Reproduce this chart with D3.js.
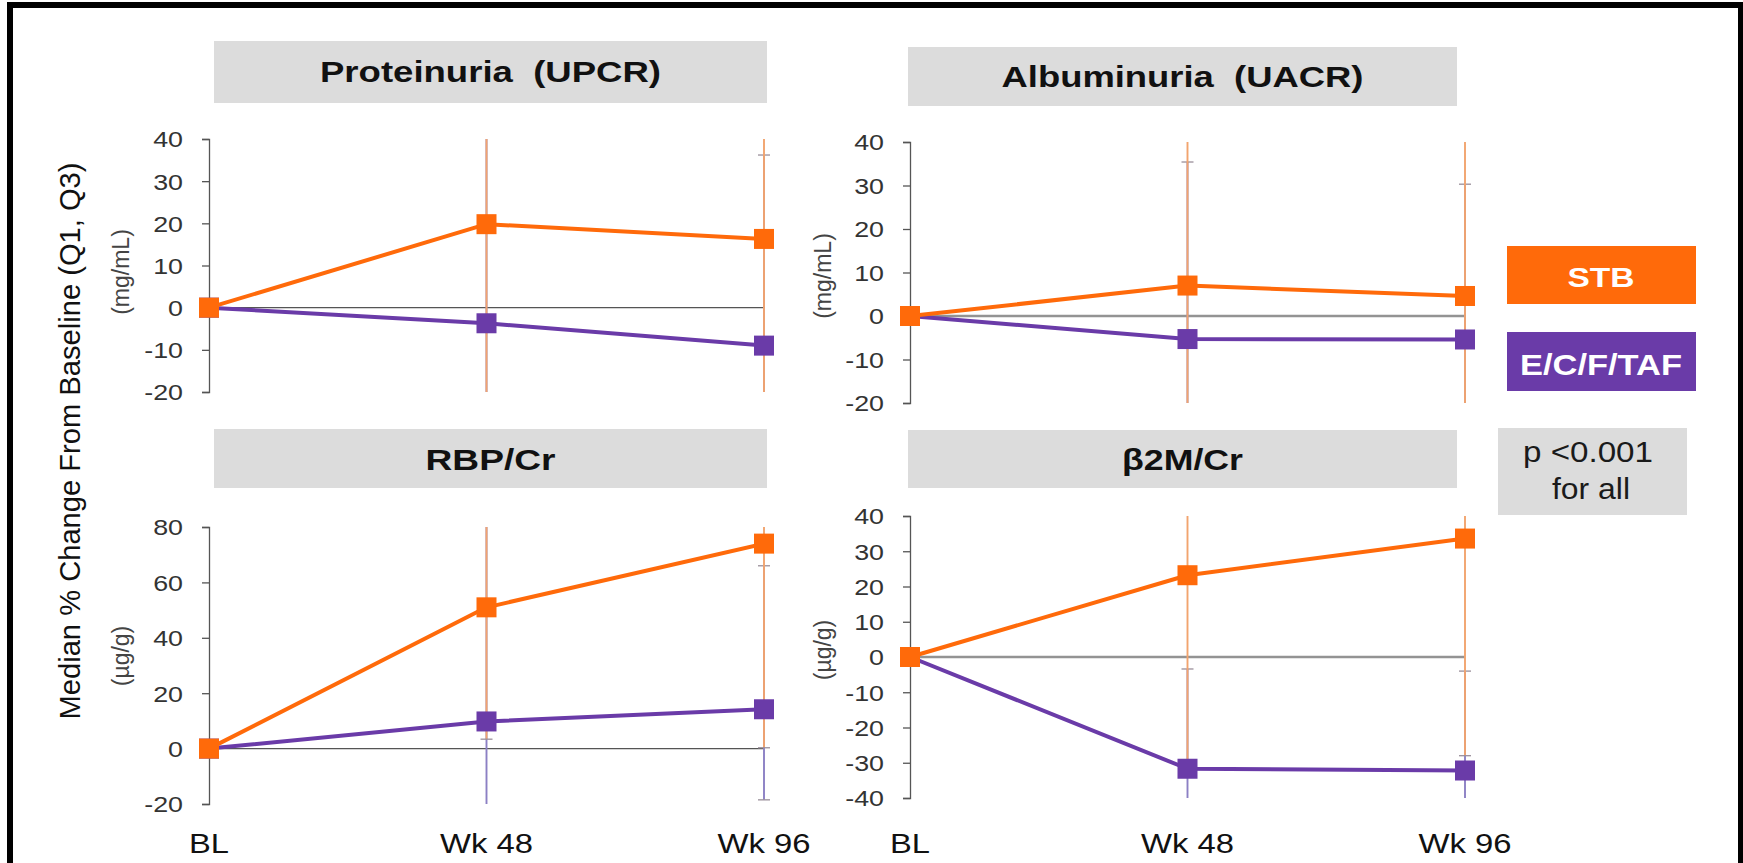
<!DOCTYPE html>
<html><head><meta charset="utf-8">
<script src="https://cdn.jsdelivr.net/npm/d3@7"></script>
<style>
body{margin:0;background:#fff}
svg{display:block}
text{font-family:"Liberation Sans",Arial,Helvetica,sans-serif}
</style>
</head><body>
<svg id="c" width="1743" height="863"></svg>
<script>
// ---------------- data ----------------
const timepoints = ["BL", "Wk 48", "Wk 96"];
const panelTitles = ["Proteinuria  (UPCR)", "Albuminuria  (UACR)", "RBP/Cr", "\u03b22M/Cr"];
const unitLabels = ["(mg/mL)", "(mg/mL)", "(\u00b5g/g)", "(\u00b5g/g)"];
const yDomains = [[-20, 40], [-20, 40], [-20, 80], [-40, 40]];
const yTickSteps = [10, 10, 20, 10];
const seriesNames = ["STB", "E/C/F/TAF"];

// medians (% change)
const stbMedian = [[0, 19.8, 16.3], [0, 7.0, 4.6], [0, 51, 74], [0, 23.2, 33.6]];
const ecfMedian = [[0, -3.7, -9.0], [0, -5.3, -5.4], [0, 9.8, 14.2], [0, -31.7, -32.2]];
// interquartile bounds
const stbQ1 = [[0, -25, -25], [0, -25, -25], [0, 3.4, 0.3], [0, -31, -28]];
const stbQ3 = [[0, 45, 45], [0, 45, 45], [0, 90, 90], [0, 50, 50]];
const ecfQ1 = [[0, -25, -25], [0, -25, -25], [0, -25, -18.5], [0, -45, -45]];
const ecfQ3 = [[0, 45, 36.2], [0, 35.4, 30.3], [0, 85, 66], [0, -3.4, -4.0]];

const yAxisTitle = "Median % Change From Baseline (Q1, Q3)";
const pValueLines = ["p <0.001", "for all"];

// ---------------- style / layout ----------------
const ORANGE = "#FF6A0A", PURPLE = "#6A3BA8";
const ORANGE_ERR = "#F2A46E", PURPLE_ERR = "#8C80C4";
const BOX_GRAY = "#DCDCDC";

const layout = [
  {x0: 209, x1: 764, yTop: 139, yBot: 392, box: [214, 41, 767, 103], titleY: 82, titleW: 341, unitX: 129, unitY: 272, zero: "thin"},
  {x0: 910, x1: 1465, yTop: 142, yBot: 403, box: [908, 47, 1457, 106], titleY: 87, titleW: 362, unitX: 831, unitY: 276, zero: "thick"},
  {x0: 209, x1: 764, yTop: 527, yBot: 804, box: [214, 429, 767, 488], titleY: 470, titleW: 130, unitX: 129, unitY: 656, zero: "thin"},
  {x0: 910, x1: 1465, yTop: 516, yBot: 798, box: [908, 430, 1457, 488], titleY: 470, titleW: 121, unitX: 831, unitY: 650, zero: "thick"}
];

const svg = d3.select("#c");

function fitW(sel, w) { sel.attr("textLength", w).attr("lengthAdjust", "spacingAndGlyphs"); }
function stretch(sel, k) {
  sel.each(function () {
    const w = this.getComputedTextLength();
    d3.select(this).attr("textLength", w * k).attr("lengthAdjust", "spacingAndGlyphs");
  });
}

// outer frame
svg.append("rect").attr("x", 10).attr("y", 5).attr("width", 1731).attr("height", 920)
  .attr("fill", "none").attr("stroke", "#000").attr("stroke-width", 6);

// y-axis title
const yt = svg.append("text")
  .attr("transform", "translate(80,441) rotate(-90)")
  .attr("text-anchor", "middle").attr("font-size", 30).attr("fill", "#111")
  .text(yAxisTitle);
fitW(yt, 557);

layout.forEach((L, i) => {
  const x = d3.scalePoint().domain(timepoints).range([L.x0, L.x1]);
  const y = d3.scaleLinear().domain(yDomains[i]).range([L.yBot, L.yTop]);
  const [ymin, ymax] = yDomains[i];
  const g = svg.append("g");

  // title box
  g.append("rect").attr("x", L.box[0]).attr("y", L.box[1])
    .attr("width", L.box[2] - L.box[0]).attr("height", L.box[3] - L.box[1])
    .attr("fill", BOX_GRAY);
  const tt = g.append("text").attr("x", (L.box[0] + L.box[2]) / 2).attr("y", L.titleY)
    .attr("text-anchor", "middle").attr("font-size", 29).attr("font-weight", "bold")
    .attr("fill", "#111").attr("xml:space", "preserve").style("white-space", "pre")
    .text(panelTitles[i]);
  fitW(tt, L.titleW);

  // unit label
  g.append("text").attr("transform", `translate(${L.unitX},${L.unitY}) rotate(-90)`)
    .attr("text-anchor", "middle").attr("font-size", 23).attr("fill", "#444")
    .text(unitLabels[i]);

  // axis
  const ticks = d3.range(ymin, ymax + 0.001, yTickSteps[i]);
  const ax = g.append("g").attr("transform", `translate(${L.x0},0)`)
    .call(d3.axisLeft(y).tickValues(ticks).tickSize(7).tickSizeOuter(7).tickPadding(19)
      .tickFormat(d => String(d)));
  ax.select(".domain").attr("stroke", "#555").attr("stroke-width", 1.3);
  ax.selectAll(".tick line").attr("stroke", "#555").attr("stroke-width", 1.3);
  ax.selectAll(".tick text").attr("font-size", 22).attr("fill", "#333")
    .attr("font-family", "'Liberation Sans',Arial,sans-serif").attr("dy", "0.36em");
  stretch(ax.selectAll(".tick text"), 1.22);

  // zero line
  g.append("line").attr("x1", x("BL")).attr("x2", x("Wk 96")).attr("y1", y(0)).attr("y2", y(0))
    .attr("stroke", L.zero === "thin" ? "#555" : "#939393")
    .attr("stroke-width", L.zero === "thin" ? 1.4 : 2.6);

  const clamp = v => Math.max(ymin, Math.min(ymax, v));
  const series = [
    {name: seriesNames[1], med: ecfMedian[i], q1: ecfQ1[i], q3: ecfQ3[i], color: PURPLE, err: PURPLE_ERR},
    {name: seriesNames[0], med: stbMedian[i], q1: stbQ1[i], q3: stbQ3[i], color: ORANGE, err: ORANGE_ERR}
  ];

  // error bars (purple under orange)
  series.forEach(s => {
    timepoints.forEach((t, j) => {
      if (j === 0) return;
      const cx = x(t);
      g.append("line").attr("x1", cx).attr("x2", cx)
        .attr("y1", y(clamp(s.q1[j]))).attr("y2", y(clamp(s.q3[j])))
        .attr("stroke", s.err).attr("stroke-width", 1.9);
      [s.q1[j], s.q3[j]].forEach(v => {
        if (v > ymin && v < ymax) {
          g.append("line").attr("x1", cx - 6).attr("x2", cx + 6).attr("y1", y(v)).attr("y2", y(v))
            .attr("stroke", "#9a8f9a").attr("stroke-width", 1.3);
        }
      });
    });
  });

  // lines + markers
  const line = d3.line().x((d, j) => x(timepoints[j])).y(d => y(d));
  series.forEach(s => {
    g.append("path").datum(s.med).attr("d", line).attr("fill", "none")
      .attr("stroke", s.color).attr("stroke-width", 4).attr("stroke-linejoin", "round");
  });
  series.forEach(s => {
    g.selectAll(null).data(s.med).enter().append("rect")
      .attr("x", (d, j) => x(timepoints[j]) - 10).attr("y", d => y(d) - 10)
      .attr("width", 20).attr("height", 20).attr("fill", s.color);
  });

  // x labels only under bottom panels
  if (i >= 2) {
    const widths = [40, 93, 93];
    g.selectAll(null).data(timepoints).enter().append("text")
      .attr("x", d => x(d)).attr("y", 853).attr("text-anchor", "middle")
      .attr("font-size", 28).attr("fill", "#111").text(d => d)
      .each(function (d, j) { fitW(d3.select(this), widths[j]); });
  }
});

// legend boxes
const legend = [
  {name: seriesNames[0], color: ORANGE, y0: 246, y1: 304, base: 287, size: 28, w: 67},
  {name: seriesNames[1], color: PURPLE, y0: 332, y1: 391, base: 375, size: 30, w: 162}
];
legend.forEach(l => {
  svg.append("rect").attr("x", 1507).attr("y", l.y0).attr("width", 189).attr("height", l.y1 - l.y0)
    .attr("fill", l.color);
  const t = svg.append("text").attr("x", 1601).attr("y", l.base).attr("text-anchor", "middle")
    .attr("font-size", l.size).attr("font-weight", "bold").attr("fill", "#fff").text(l.name);
  fitW(t, l.w);
});

// p-value box
svg.append("rect").attr("x", 1498).attr("y", 428).attr("width", 189).attr("height", 87).attr("fill", BOX_GRAY);
const pw = [130, 78], pb = [462, 499], pcx = [1588, 1591];
pValueLines.forEach((s, k) => {
  const t = svg.append("text").attr("x", pcx[k]).attr("y", pb[k]).attr("text-anchor", "middle")
    .attr("font-size", 29).attr("fill", "#1a1a1a").text(s);
  fitW(t, pw[k]);
});
</script>
</body></html>
